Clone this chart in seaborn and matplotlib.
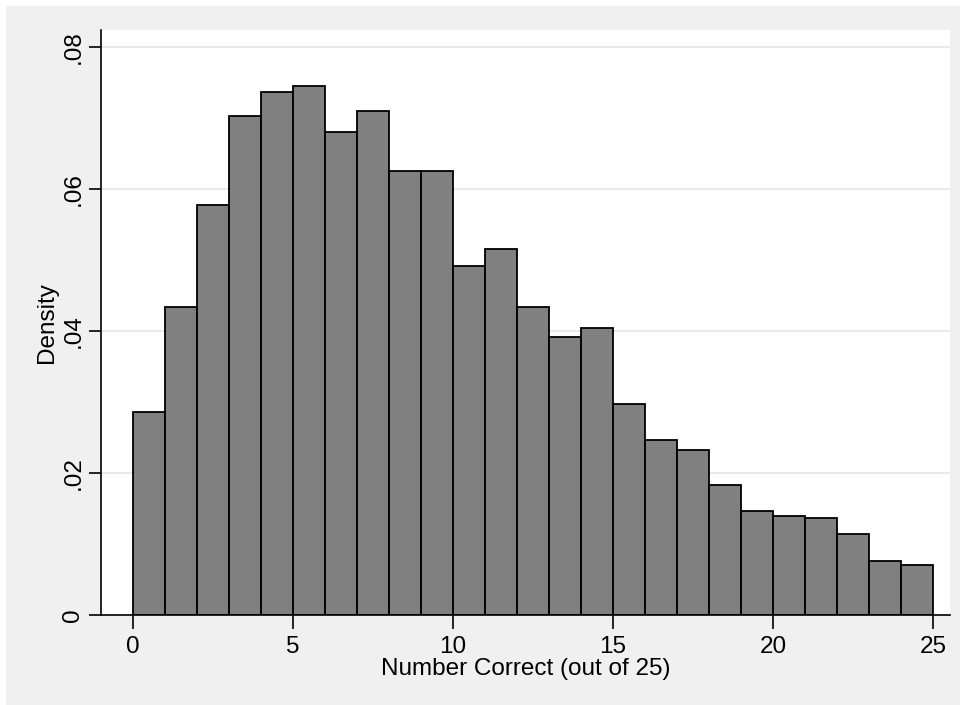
import numpy as np
import pandas as pd
import seaborn as sns
import matplotlib.pyplot as plt
from matplotlib.patches import Rectangle

# density per bin of width 1
bin_left = list(range(25))
density = [0.0286, 0.0434, 0.0577, 0.0703, 0.0737, 0.0745, 0.0680, 0.0710,
           0.0626, 0.0625, 0.0492, 0.0515, 0.0434, 0.0392, 0.0404, 0.0297,
           0.0246, 0.0233, 0.0183, 0.0147, 0.0139, 0.0136, 0.0114, 0.0076,
           0.0071]
x_ticks = [0, 5, 10, 15, 20, 25]
y_ticks = [0, 0.02, 0.04, 0.06, 0.08]
y_tick_labels = ['0', '.02', '.04', '.06', '.08']

df = pd.DataFrame({'score': [b + 0.5 for b in bin_left], 'density': density})

sns.set_style('white')
plt.rcParams['font.family'] = ['Liberation Sans', 'DejaVu Sans']
fs = 17.5

fig = plt.figure(figsize=(9.6, 7.05), dpi=100, facecolor='white')
# grey graph region with thin white margin top/left
fig.patches.append(Rectangle((6 / 960, 0), 1, 1 - 6 / 705, transform=fig.transFigure,
                             facecolor='#f0f0f0', edgecolor='none', zorder=-10))
ax = fig.add_axes([101 / 960, 1 - 615 / 705, (950 - 101) / 960, (615 - 30) / 705])
ax.set_facecolor('white')

for y in y_ticks:
    ax.axhline(y, color='#eaeaea', lw=1.5, zorder=0)

sns.histplot(data=df, x='score', weights='density', binwidth=1, binrange=(0, 25),
             stat='count', color='#808080', alpha=1, edgecolor='black',
             linewidth=1.3, ax=ax, zorder=2)

ax.set_xlim(-1.0, 25.53)
ax.set_ylim(0, 0.0824)
ax.set_xticks(x_ticks)
ax.set_xticklabels([str(t) for t in x_ticks], fontsize=fs, color='black')
ax.set_yticks(y_ticks)
ax.set_yticklabels(y_tick_labels, fontsize=fs, rotation=90, va='center', color='black')
ax.tick_params(axis='x', direction='out', length=10, width=1.2, color='black',
               bottom=True, pad=5)
ax.tick_params(axis='y', direction='out', length=9, width=1.2, color='black',
               left=True, pad=3)

for side in ['top', 'right']:
    ax.spines[side].set_visible(False)
for side in ['left', 'bottom']:
    ax.spines[side].set_color('black')
    ax.spines[side].set_linewidth(1.2)

ax.set_xlabel('Number Correct (out of 25)', fontsize=fs, color='black', labelpad=0)
ax.set_ylabel('Density', fontsize=fs, color='black', labelpad=3)

fig.savefig('out.png', dpi=100, facecolor=fig.get_facecolor())
